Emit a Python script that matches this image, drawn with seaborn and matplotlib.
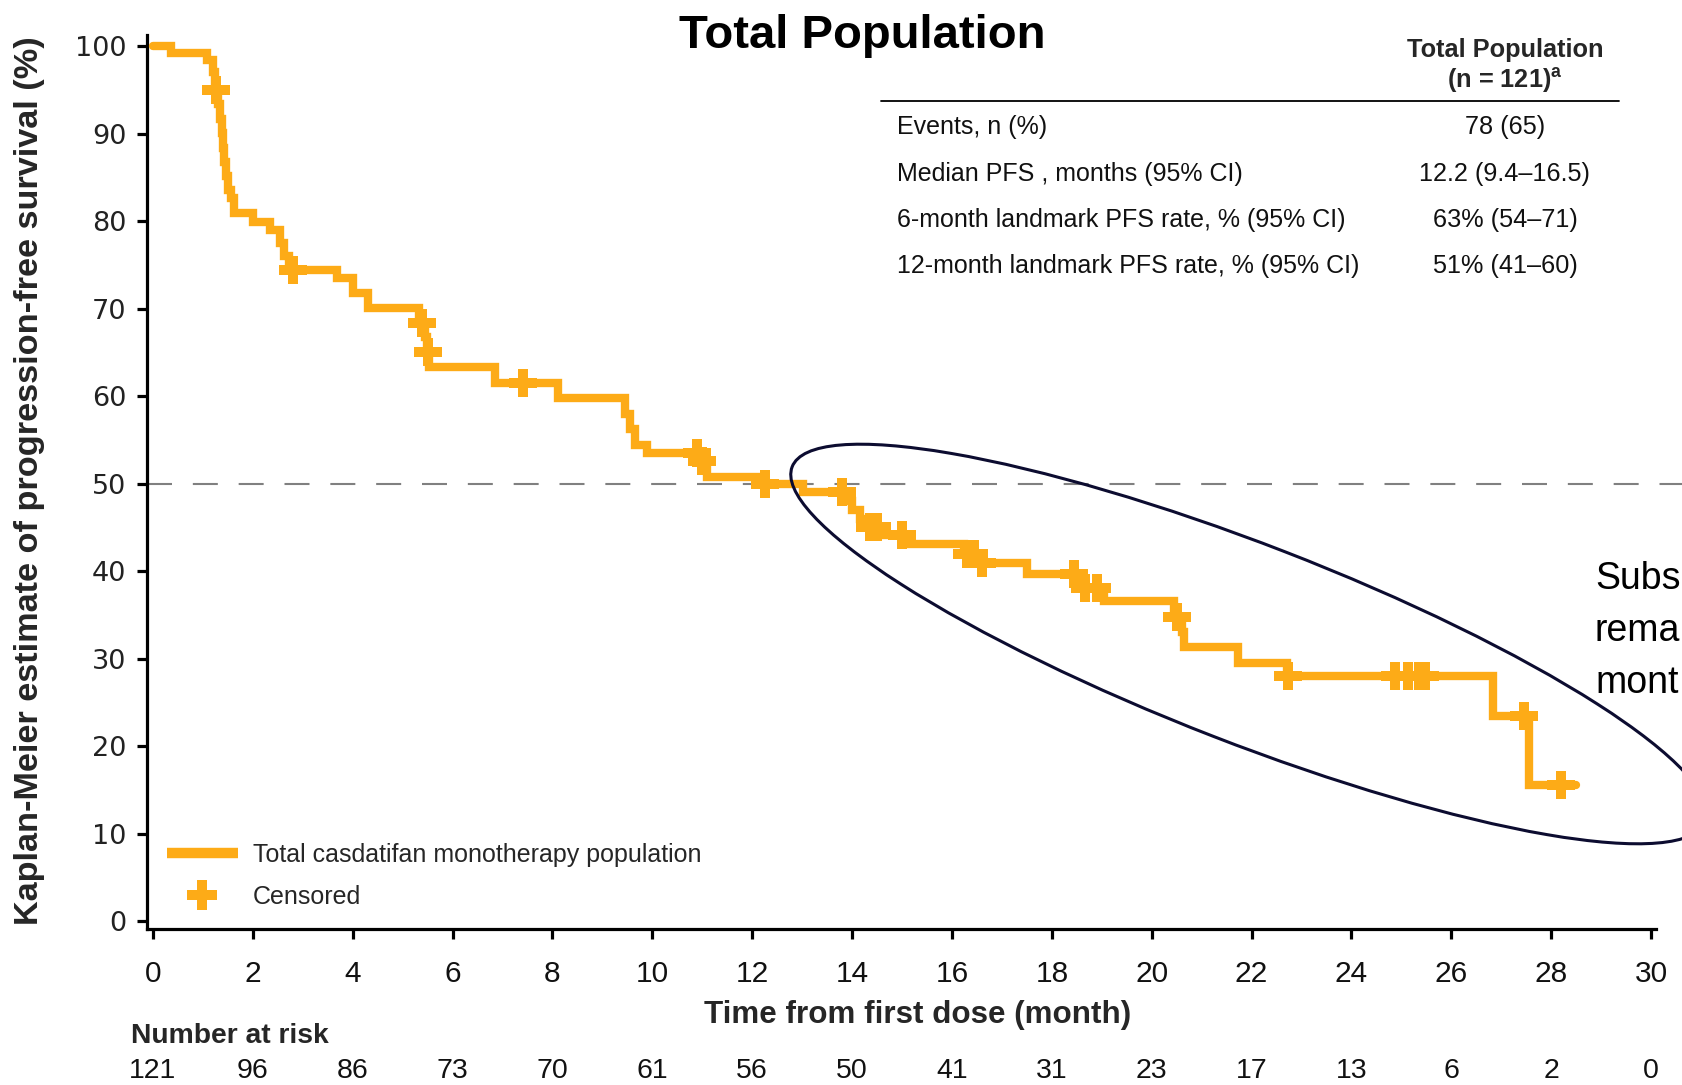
import numpy as np
import pandas as pd
import matplotlib
matplotlib.use("Agg")
import matplotlib.pyplot as plt
import seaborn as sns
from matplotlib import transforms as mtransforms
from matplotlib.lines import Line2D
from matplotlib.patches import Ellipse

# ---------------- data ----------------
event_months = [0, 0.37, 1.08, 1.20, 1.25, 1.30, 1.35, 1.38, 1.41, 1.43, 1.46, 1.50, 1.56, 1.62,
                2.01, 2.34, 2.54, 2.62, 2.72, 3.68, 4.01, 4.31, 5.33, 5.45, 5.48, 5.52, 6.85,
                8.12, 9.45, 9.55, 9.65, 9.89, 10.95, 11.09, 12.20, 13.02, 13.85, 14.00, 14.15,
                14.30, 14.55, 15.16, 16.25, 16.50, 17.50, 18.55, 19.05, 20.45, 20.60, 20.65,
                21.73, 22.70, 26.84, 27.55, 28.50]
event_surv = [100, 99.2, 98.4, 97.0, 95.0, 93.4, 91.7, 90.1, 88.4, 86.8, 85.1, 83.5, 82.6, 80.9,
              79.9, 79.0, 77.5, 76.0, 74.4, 73.5, 71.8, 70.1, 68.4, 66.7, 65.0, 63.3, 61.5,
              59.8, 58.0, 56.2, 54.4, 53.5, 52.6, 50.8, 50.0, 49.0, 48.0, 47.0, 46.0,
              45.0, 44.1, 43.1, 42.0, 40.9, 39.7, 38.1, 36.6, 34.8, 33.0, 31.3,
              29.5, 28.0, 23.4, 15.6, 15.6]
censor_months = [1.27, 2.81, 5.38, 5.50, 7.40, 10.89, 11.00, 12.25, 13.79, 14.36, 14.49, 14.99,
                 16.30, 16.45, 16.60, 18.45, 18.66, 18.90, 20.50, 22.73, 24.88, 25.14, 25.36,
                 25.48, 27.46, 28.20]
risk_months = list(range(0, 31, 2))
at_risk = [121, 96, 86, 73, 70, 61, 56, 50, 41, 31, 23, 17, 13, 6, 2, 0]
table_labels = ["Events, n (%)", "Median PFS , months (95% CI)",
                "6-month landmark PFS rate, % (95% CI)", "12-month landmark PFS rate, % (95% CI)"]
table_values = ["78 (65)", "12.2 (9.4\u201316.5)", "63% (54\u201371)", "51% (41\u201360)"]
side_text = ["Subs", "rema", "mont"]

ORANGE = "#FDAB17"
NAVY = "#0C0C30"

sns.set_style("ticks")
FONT = "Liberation Sans"
plt.rcParams["font.family"] = [FONT, "DejaVu Sans"]
plt.rcParams["mathtext.fontset"] = "custom"
plt.rcParams["mathtext.bf"] = "Liberation Sans:bold"
plt.rcParams["mathtext.rm"] = "Liberation Sans"

W, H = 1683, 1085
fig = plt.figure(figsize=(W / 100, H / 100), dpi=100)
fig.patch.set_facecolor("white")


def fx(px):
    return px / W


def fy(py):
    return 1 - py / H


ax = fig.add_axes([fx(147), fy(929), fx(1683) - fx(147), fy(35) - fy(929)])
ax.set_facecolor("white")

ax.axhline(50, color="#808080", lw=1.5, dashes=(12, 10), zorder=1)

km = pd.DataFrame({"month": event_months, "surv": event_surv})
sns.lineplot(data=km, x="month", y="surv", estimator=None, sort=False, drawstyle="steps-post",
             color=ORANGE, lw=6, solid_joinstyle="miter", ax=ax, zorder=3, legend=False)
idx = np.searchsorted(np.array(event_months), np.array(censor_months), side="right") - 1
cens = pd.DataFrame({"month": censor_months, "surv": np.array(event_surv)[idx]})
sns.scatterplot(data=cens, x="month", y="surv", marker="P", s=410, color=ORANGE, linewidth=0,
                ax=ax, zorder=4, legend=False)

ax.set_xlim(-0.12, 30.64)
ax.set_ylim(-0.91, 101.26)
ax.set_xticks(risk_months)
ax.set_yticks(range(0, 101, 10))
ax.set_xlabel("")
ax.set_ylabel("")
for s in ["top", "right"]:
    ax.spines[s].set_visible(False)
for s in ["bottom", "left"]:
    ax.spines[s].set_linewidth(2.3)
    ax.spines[s].set_color("black")
ax.spines["bottom"].set_bounds(-0.12, 30.1)
ax.tick_params(axis="both", direction="out", length=7, width=2.3, color="black")
ax.tick_params(axis="x", pad=15)
ax.tick_params(axis="y", pad=8)
for lab in ax.get_xticklabels():
    lab.set_fontfamily(FONT)
    lab.set_fontsize(21.5)
    lab.set_color("#111111")
for lab in ax.get_yticklabels():
    lab.set_fontfamily("DejaVu Sans")
    lab.set_fontsize(19.5)
    lab.set_color("#222222")

# legend
handles = [Line2D([], [], color=ORANGE, lw=7.5, solid_capstyle="butt"),
           Line2D([], [], color=ORANGE, marker="P", ls="none", ms=21.5, mew=0)]
ax.legend(handles, ["Total casdatifan monotherapy population", "Censored"], loc="upper left",
          bbox_to_anchor=(fx(167), fy(843)), bbox_transform=fig.transFigure, frameon=False,
          borderpad=0, borderaxespad=0, handlelength=2.84, handletextpad=0.6,
          labelspacing=0.72, prop={"family": FONT, "size": 18})

# title
fig.text(fx(862), fy(36), "Total Population", ha="center", va="center", fontsize=34,
         fontweight="bold", color="black")

# axis labels
fig.text(fx(918), fy(1015), "Time from first dose (month)", ha="center", va="center",
         fontsize=22.6, fontweight="bold")
fig.text(fx(30), fy(481), "Kaplan-Meier estimate of progression-free survival (%)", ha="center",
         va="center", rotation=90, fontsize=24.7, fontweight="bold")

# number at risk
fig.text(fx(131), fy(1036), "Number at risk", ha="left", va="center", fontsize=20.3,
         fontweight="bold")
tr = mtransforms.blended_transform_factory(ax.transData, fig.transFigure)
for m, n in zip(risk_months, at_risk):
    ax.text(m, fy(1071), str(n), transform=tr, ha="center", va="center", fontsize=20.5,
            color="#111111", clip_on=False)

# table
fig.text(fx(1505), fy(50), "Total Population", ha="center", va="center", fontsize=18.3,
         fontweight="bold")
fig.text(fx(1505), fy(81), r"(n = 121)$^{\mathbf{a}}$", ha="center", va="center", fontsize=18.3,
         fontweight="bold")
fig.add_artist(Line2D([fx(881), fx(1619)], [fy(101), fy(101)], transform=fig.transFigure,
                      color="black", lw=1.3))
row_y = [127, 174, 220, 266]
for lab, val, yy in zip(table_labels, table_values, row_y):
    fig.text(fx(897), fy(yy), lab, ha="left", va="center", fontsize=18, color="#111111")
    fig.text(fx(1505), fy(yy), val, ha="center", va="center", fontsize=18.2, color="#111111")

# ellipse annotation (pixel coordinates)
ell = Ellipse((1249, H - 644), 980, 198, angle=-21.2, fill=False, edgecolor=NAVY, lw=2.2,
              transform=mtransforms.IdentityTransform(), zorder=10)
fig.add_artist(ell)

for t, yy in zip(side_text, [579, 631, 683]):
    fig.text(fx(1595), fy(yy), t, ha="left", va="center", fontsize=27, color="black")

fig.savefig("out.png", dpi=100, facecolor="white")
